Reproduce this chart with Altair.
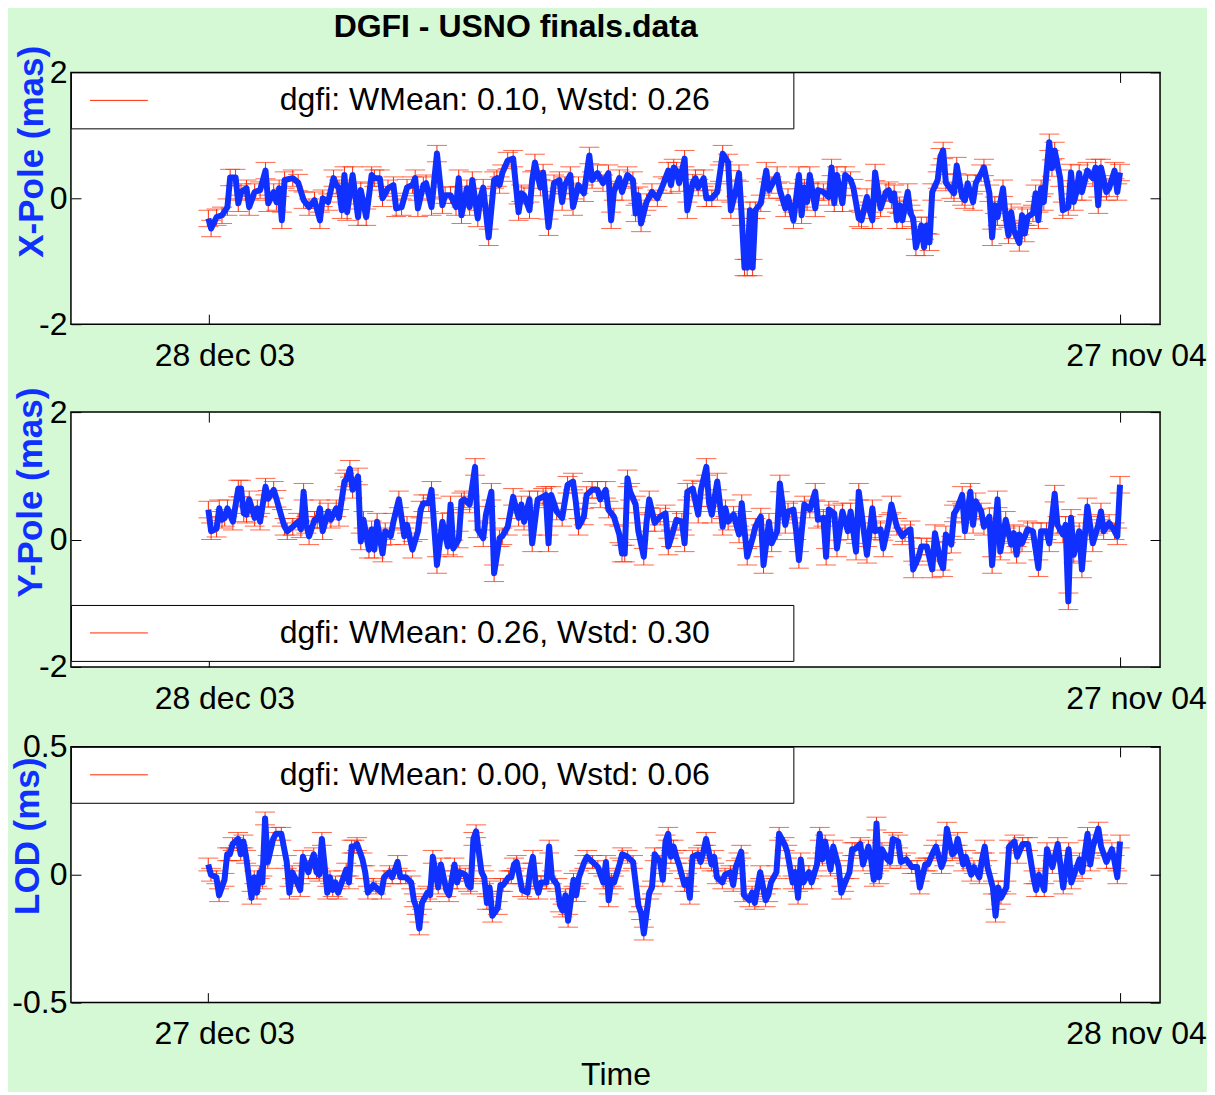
import altair as alt
import pandas as pd
from datetime import date, timedelta

FONT = "Liberation Sans"
BLUE = "#1030ff"
RED = "#ff2a00"
BG = "#d4f9d4"

# ---------------- X-Pole (mas), days after 28 dec 2003 ----------------
x_days = [0, 1, 3, 5, 7, 8, 10, 11, 12, 14, 15, 17, 19, 21, 22, 24, 25, 26, 27, 28,
          31, 33, 35, 37, 39, 41, 42, 44, 46, 47, 48, 49, 50, 51, 53, 55, 56, 58, 60, 61,
          63, 64, 66, 68, 69, 71, 73, 75, 76, 77, 79, 80, 82, 84, 86, 87, 89, 91, 92, 93,
          95, 96, 97, 99, 100, 101, 103, 105, 106, 107, 108, 110, 112, 114, 115, 116, 118, 119, 120, 122,
          123, 125, 127, 129, 130, 131, 133, 134, 136, 138, 140, 141, 143, 145, 147, 148, 149, 151, 152, 154,
          156, 157, 158, 159, 161, 163, 165, 167, 169, 170, 171, 172, 173, 175, 176, 178, 179, 180, 182, 183,
          185, 187, 188, 189, 191, 192, 194, 195, 196, 197, 198, 199, 200, 201, 203, 205, 206, 207, 209, 210,
          212, 213, 215, 217, 218, 219, 220, 221, 223, 224, 226, 228, 229, 230, 231, 233, 234, 236, 237, 239,
          240, 242, 243, 244, 245, 247, 249, 250, 251, 252, 253, 254, 255, 257, 258, 259, 260, 262, 263, 264,
          265, 266, 268, 269, 270, 271, 273, 274, 275, 277, 278, 279, 281, 282, 284, 285, 287, 288, 289, 290,
          292, 293, 294, 295, 296, 298, 299, 300, 301, 303, 304, 305, 306, 307, 309, 310, 311, 313, 314, 316,
          317, 318, 319, 320, 321, 323, 325, 326, 327, 328, 330, 331, 333, 334, 335]
x_vals = [-0.32, -0.48, -0.30, -0.27, -0.14, 0.33, 0.33, -0.08, 0.10, 0.16, -0.14, 0.10, 0.13, 0.44, -0.08, 0.10, -0.06, 0.16, -0.35, 0.29,
          0.32, 0.25, -0.03, -0.14, -0.03, -0.35, 0.00, -0.06, 0.32, 0.21, 0.16, -0.19, 0.37, -0.22, 0.37, -0.30, 0.13, -0.30, 0.37, 0.32,
          0.32, 0.00, 0.16, 0.21, -0.16, -0.14, 0.17, 0.21, 0.32, -0.16, 0.21, 0.24, -0.14, 0.71, -0.11, 0.05, 0.05, -0.14, 0.32, -0.27,
          0.16, -0.14, 0.29, -0.32, 0.02, 0.17, -0.62, 0.29, 0.32, 0.21, 0.40, 0.60, 0.63, -0.22, 0.08, 0.05, -0.19, 0.29, 0.57, 0.17,
          0.41, -0.46, 0.24, 0.29, -0.06, 0.21, 0.37, -0.14, 0.21, 0.08, 0.68, 0.29, 0.40, 0.24, 0.40, -0.35, 0.10, 0.32, 0.10, 0.37,
          0.29, -0.24, 0.05, -0.40, -0.06, 0.10, 0.00, 0.21, 0.44, 0.21, 0.49, 0.44, 0.24, 0.63, -0.19, 0.25, 0.32, 0.17, 0.32, 0.00,
          0.00, 0.10, 0.40, 0.71, 0.57, -0.19, 0.16, 0.40, -0.30, -1.10, -1.10, -0.19, -1.10, -0.19, -0.08, 0.44, 0.13, 0.21, 0.37, 0.13,
          -0.16, 0.02, -0.35, 0.37, -0.27, 0.17, -0.06, 0.37, -0.16, 0.13, 0.10, 0.02, 0.49, -0.08, 0.37, -0.08, 0.37, 0.29, 0.17, -0.32,
          -0.35, 0.02, -0.19, -0.35, 0.41, -0.16, 0.10, 0.13, -0.03, 0.08, -0.35, -0.11, -0.35, 0.10, -0.24, -0.32, -0.78, -0.43, -0.78, -0.43,
          -0.70, 0.10, 0.29, 0.66, 0.76, 0.25, 0.13, 0.08, 0.52, 0.02, -0.03, 0.24, -0.06, 0.24, 0.40, 0.49, 0.08, -0.62, -0.11, -0.30,
          0.16, -0.30, -0.59, -0.22, -0.51, -0.71, -0.27, -0.56, -0.30, -0.24, 0.08, -0.35, 0.16, -0.06, 0.89, 0.48, 0.76, 0.32, -0.19, -0.14,
          0.41, -0.06, 0.10, 0.40, 0.10, 0.44, 0.32, 0.49, -0.11, 0.49, 0.10, 0.16, 0.44, 0.10, 0.41]

# ---------------- Y-Pole (mas), days after 28 dec 2003 ----------------
y_days = [0, 1, 3, 4, 5, 6, 7, 9, 11, 12, 13, 14, 15, 17, 18, 19, 21, 22, 24, 25,
          27, 28, 29, 31, 33, 34, 35, 36, 37, 39, 40, 41, 42, 44, 45, 47, 48, 50, 51, 52,
          53, 55, 56, 57, 59, 60, 61, 62, 64, 65, 67, 68, 70, 72, 73, 75, 77, 78, 79, 81,
          82, 84, 86, 88, 89, 90, 92, 93, 94, 96, 98, 99, 101, 102, 104, 105, 107, 108, 110, 112,
          114, 115, 116, 118, 119, 121, 123, 124, 125, 126, 128, 130, 132, 134, 135, 136, 138, 139, 141, 143,
          144, 146, 147, 149, 151, 152, 153, 154, 155, 157, 158, 160, 161, 162, 164, 166, 168, 169, 170, 172,
          174, 175, 176, 178, 180, 181, 183, 184, 185, 187, 189, 190, 191, 193, 195, 196, 198, 200, 201, 203,
          204, 206, 207, 209, 210, 212, 213, 215, 216, 217, 219, 221, 223, 224, 226, 227, 228, 230, 231, 233,
          235, 236, 238, 239, 242, 244, 245, 247, 248, 250, 251, 253, 255, 256, 258, 259, 261, 262, 264, 266,
          267, 269, 270, 271, 273, 274, 275, 277, 278, 280, 281, 282, 284, 285, 287, 288, 290, 291, 293, 295,
          296, 297, 298, 299, 301, 303, 305, 306, 308, 309, 311, 312, 314, 315, 316, 317, 318, 320, 321, 323,
          325, 327, 328, 329, 331, 333, 334, 335]
y_vals = [0.47, 0.13, 0.17, 0.49, 0.31, 0.34, 0.49, 0.28, 0.80, 0.80, 0.41, 0.39, 0.63, 0.34, 0.49, 0.28, 0.83, 0.64, 0.78, 0.64,
          0.34, 0.20, 0.13, 0.20, 0.28, 0.16, 0.75, 0.23, 0.05, 0.31, 0.31, 0.49, 0.13, 0.44, 0.31, 0.49, 0.34, 0.91, 0.96, 1.11,
          0.78, 0.99, -0.03, 0.31, -0.16, 0.16, -0.16, 0.28, -0.22, 0.13, 0.05, 0.28, 0.63, 0.05, 0.23, -0.16, 0.13, 0.47, 0.57, 0.57,
          0.78, -0.40, 0.28, -0.11, 0.55, -0.14, 0.00, 0.60, 0.63, 0.55, 1.14, 0.16, 0.02, 0.39, 0.75, -0.53, 0.02, 0.05, 0.20, 0.67,
          0.34, 0.55, 0.28, 0.63, -0.06, 0.63, 0.67, 0.70, -0.06, 0.70, 0.44, 0.34, 0.86, 0.91, 0.60, 0.20, 0.36, 0.70, 0.78, 0.78,
          0.63, 0.78, 0.47, 0.36, 0.08, -0.22, -0.22, 0.96, 0.75, 0.55, 0.13, -0.27, 0.26, 0.63, 0.26, 0.36, 0.41, -0.11, 0.02, 0.31,
          0.28, -0.06, 0.75, 0.80, 0.39, 0.78, 1.14, 0.57, 0.39, 0.91, 0.20, 0.49, 0.28, 0.39, 0.08, 0.57, -0.27, 0.02, 0.20, 0.36,
          -0.40, 0.28, -0.06, 0.13, 0.88, 0.23, 0.44, 0.47, 0.13, -0.32, 0.55, 0.47, 0.75, 0.31, 0.34, -0.27, 0.47, 0.41, -0.14, 0.44,
          0.13, 0.44, -0.19, 0.75, -0.24, 0.49, 0.13, 0.16, -0.14, 0.26, 0.55, 0.20, 0.05, 0.10, 0.16, -0.47, -0.27, -0.11, -0.11, -0.47,
          0.10, -0.35, -0.45, 0.08, -0.08, 0.41, 0.47, 0.70, 0.13, 0.75, 0.23, 0.60, 0.44, 0.20, 0.36, -0.40, 0.63, -0.19, 0.31, -0.08,
          0.10, -0.24, 0.08, -0.06, 0.16, 0.13, -0.45, 0.13, 0.13, -0.06, 0.72, 0.23, 0.08, 0.23, -0.97, 0.34, -0.24, 0.13, -0.47, 0.52,
          -0.06, 0.23, 0.44, 0.13, 0.26, 0.13, 0.05, 0.86]

# ---------------- LOD (ms), days after 27 dec 2003 ----------------
l_days = [0, 1, 3, 4, 6, 7, 8, 9, 11, 12, 13, 14, 16, 17, 18, 19, 20, 21, 22, 24,
          25, 27, 29, 30, 31, 32, 34, 35, 37, 38, 39, 40, 41, 42, 44, 45, 46, 47, 48, 50,
          51, 52, 53, 54, 55, 57, 58, 59, 61, 62, 64, 65, 67, 68, 70, 71, 73, 75, 76, 77,
          78, 79, 81, 82, 83, 85, 86, 88, 89, 91, 92, 93, 95, 96, 97, 98, 99, 101, 102, 103,
          104, 105, 107, 108, 109, 111, 112, 113, 114, 116, 118, 119, 120, 121, 122, 123, 125, 126, 127, 129,
          130, 131, 132, 133, 135, 136, 137, 139, 140, 142, 144, 146, 147, 148, 149, 150, 152, 153, 155, 157,
          159, 160, 161, 163, 164, 165, 167, 168, 169, 170, 171, 172, 173, 174, 176, 177, 178, 179, 181, 182,
          183, 184, 186, 187, 188, 190, 191, 193, 194, 195, 196, 197, 198, 200, 201, 202, 203, 204, 206, 207,
          208, 210, 211, 213, 214, 216, 217, 218, 219, 220, 222, 223, 225, 226, 227, 228, 230, 231, 233, 234,
          235, 237, 238, 239, 241, 242, 244, 245, 246, 247, 248, 249, 251, 252, 253, 255, 256, 258, 260, 262,
          263, 265, 266, 268, 269, 271, 272, 273, 275, 276, 277, 279, 280, 282, 283, 285, 286, 287, 288, 290,
          291, 292, 293, 295, 296, 298, 299, 301, 303, 305, 306, 307, 309, 310, 312, 314, 316, 318, 319, 320,
          322, 323, 325, 326, 327, 329, 330, 332, 334, 335, 336, 337]
l_vals = [0.04, 0.00, -0.01, -0.08, -0.02, 0.08, 0.08, 0.12, 0.14, 0.08, 0.13, 0.07, -0.09, -0.01, -0.07, 0.01, -0.03, 0.22, 0.05, 0.14,
          0.16, 0.16, 0.05, -0.07, 0.01, -0.01, -0.06, 0.07, 0.01, 0.05, 0.08, 0.01, 0.00, 0.14, -0.07, -0.01, -0.06, -0.03, -0.07, -0.01,
          0.02, -0.03, 0.11, 0.11, 0.12, 0.06, 0.01, -0.07, -0.04, -0.05, -0.07, -0.01, 0.01, -0.01, 0.05, -0.01, -0.01, -0.03, -0.10, -0.13,
          -0.21, -0.11, -0.07, -0.08, 0.07, -0.05, 0.04, -0.06, -0.08, 0.04, -0.03, 0.01, 0.00, -0.04, -0.05, 0.14, 0.17, 0.01, -0.01, -0.11,
          -0.05, -0.16, -0.13, -0.04, -0.04, -0.01, -0.01, 0.04, 0.05, -0.06, -0.07, 0.02, 0.07, -0.03, -0.07, -0.03, -0.03, 0.11, -0.01, -0.04,
          -0.12, -0.14, -0.08, -0.18, -0.02, -0.08, -0.01, 0.05, 0.07, 0.05, 0.03, -0.03, 0.05, -0.10, -0.02, -0.03, 0.04, 0.08, 0.07, 0.05,
          -0.12, -0.15, -0.23, -0.07, -0.05, 0.08, 0.05, -0.02, 0.13, 0.16, 0.07, 0.11, 0.07, 0.04, -0.04, -0.02, -0.09, 0.07, 0.08, 0.05,
          0.09, 0.14, 0.04, 0.07, -0.01, -0.03, 0.00, 0.01, -0.04, 0.03, 0.06, 0.09, -0.08, -0.10, -0.07, -0.11, -0.05, 0.01, -0.10, -0.08,
          -0.03, 0.01, 0.16, 0.12, 0.09, -0.03, 0.01, -0.09, 0.06, -0.03, 0.01, -0.03, 0.04, 0.16, 0.06, 0.13, 0.02, 0.11, 0.03, -0.07,
          -0.04, 0.01, 0.10, 0.10, 0.12, 0.04, 0.11, 0.06, -0.02, 0.20, -0.01, 0.10, 0.06, 0.05, 0.14, 0.13, 0.05, 0.06, 0.03, 0.03,
          -0.05, 0.04, 0.04, 0.09, 0.11, 0.03, 0.06, 0.18, 0.08, 0.09, 0.14, 0.04, 0.07, 0.00, 0.03, -0.01, 0.06, 0.11, 0.03, -0.05,
          -0.16, -0.05, -0.09, -0.05, 0.11, 0.13, 0.07, 0.12, 0.12, -0.01, -0.06, 0.00, -0.06, 0.10, 0.03, 0.12, -0.05, 0.10, -0.03, 0.00,
          0.06, 0.01, 0.16, 0.04, 0.11, 0.18, 0.11, 0.05, 0.10, 0.05, -0.01, 0.13]

x_label = "dgfi: WMean: 0.10, Wstd: 0.26"
y_label = "dgfi: WMean: 0.26, Wstd: 0.30"
l_label = "dgfi: WMean: 0.00, Wstd: 0.06"

x_err = 0.13
y_err = 0.13
l_err = 0.025

pole_start = date(2003, 12, 28)
lod_start = date(2003, 12, 27)


def make_df(days, vals, start, label, err):
    return pd.DataFrame({
        "date": [(start + timedelta(days=d)).isoformat() for d in days],
        "value": vals,
        "lo": [v - err for v in vals],
        "hi": [v + err for v in vals],
        "series": label,
    })


def dt(y, m, d, h=0):
    return alt.DateTime(year=y, month=m, date=d, hours=h, utc=True)


# non-breaking spaces (kept by a trailing zero-width char) widen the legend box
PAD = "\u00a0" * 8 + "\u200b"

TICKS = dict(ticks=True, tickSize=10, tickColor="black", tickWidth=1, offset=-10)


def panel(df, ydom, yvals, ytitle, tx, ty, legend_y, height, xdom, xticks, xtitle, lpad):
    axis_kw = dict(values=xticks,
                   labelExpr="lower(utcFormat(datum.value, '%d %b %y'))",
                   labelOffset=16, labelPadding=lpad, **TICKS)
    if xtitle:
        axis_kw.update(title=xtitle, titleFontWeight="normal", titlePadding=10)
    else:
        axis_kw.update(title=None)
    xscale = alt.Scale(type="utc", domain=xdom)
    yscale = alt.Scale(domain=ydom, nice=False, zero=False)
    x = alt.X("date:T", scale=xscale, axis=alt.Axis(**axis_kw))
    x_top = alt.X("date:T", scale=xscale,
                  axis=alt.Axis(orient="top", values=xticks, labels=False, title=None, **TICKS))
    x_none = alt.X("date:T", scale=xscale, axis=None)
    y_axis = alt.Axis(values=yvals, labelExpr="'' + datum.value", title=ytitle,
                      titleColor=BLUE, titleFontWeight="bold", titleFontSize=35,
                      titleX=tx, titleY=ty, titleBaseline="middle", labelPadding=4, **TICKS)
    y = alt.Y("value:Q", scale=yscale, axis=y_axis)
    base = alt.Chart(df)
    legend = alt.Legend(orient="none", legendX=0, legendY=legend_y, title=None,
                        fillColor="white", strokeColor="black",
                        padding=12, symbolType="M-1.93,0H1.93", symbolSize=900,
                        symbolStrokeWidth=1, symbolStrokeColor=RED, symbolOffset=20,
                        labelOffset=145, labelFontSize=32, labelFont=FONT, labelLimit=2000,
                        labelExpr="datum.label + '" + PAD + "'")
    bars = base.mark_rule(strokeWidth=1).encode(
        x=x_top,
        y=alt.Y("lo:Q", scale=yscale,
                axis=alt.Axis(orient="right", values=yvals, labels=False, title=None, **TICKS)),
        y2="hi:Q",
        color=alt.Color("series:N", scale=alt.Scale(range=[RED]), legend=legend))
    cap_lo = base.mark_tick(orient="horizontal", size=20, thickness=1, color=RED).encode(
        x=x_none, y=alt.Y("lo:Q", scale=yscale, axis=None))
    cap_hi = base.mark_tick(orient="horizontal", size=20, thickness=1, color=RED).encode(
        x=x_none, y=alt.Y("hi:Q", scale=yscale, axis=None))
    line = base.mark_line(color=BLUE, strokeWidth=6, strokeJoin="round").encode(x=x, y=y)
    return (alt.layer(bars, cap_lo, cap_hi, line)
            .resolve_axis(x="independent", y="independent")
            .properties(width=1090, height=height))


pole_dom = [dt(2003, 11, 7, 12), dt(2004, 12, 11, 17)]
pole_ticks = [dt(2003, 12, 28), dt(2004, 11, 27)]
lod_dom = [dt(2003, 11, 6, 6), dt(2004, 12, 12, 19)]
lod_ticks = [dt(2003, 12, 27), dt(2004, 11, 28)]

p1 = panel(make_df(x_days, x_vals, pole_start, x_label, x_err), [-2, 2], [-2, 0, 2],
           "X-Pole (mas)", -49, 79, 0, 252, pole_dom, pole_ticks, None, 16)
p2 = panel(make_df(y_days, y_vals, pole_start, y_label, y_err), [-2, 2], [-2, 0, 2],
           "Y-Pole (mas)", -50, 80, 193, 255, pole_dom, pole_ticks, None, 17)
p3 = panel(make_df(l_days, l_vals, lod_start, l_label, l_err), [-0.5, 0.5], [-0.5, 0, 0.5],
           "LOD (ms)", -53, 89, 0, 256, lod_dom, lod_ticks, "Time", 16)

chart = alt.vconcat(p1, p2, p3, spacing=14).resolve_scale(color="independent").properties(
    title=alt.TitleParams("DGFI - USNO finals.data", fontSize=32, font=FONT,
                          fontWeight="bold", anchor="middle", dx=-93, offset=1),
    background=BG,
    padding={"left": 2, "top": 2, "right": 0, "bottom": 0},
).configure_view(
    stroke="black", strokeWidth=1.5, fill="white"
).configure_axis(
    domain=False, ticks=False, grid=False, labelFont=FONT, labelFontSize=32,
    labelColor="black", titleFont=FONT, titleFontSize=32, titleColor="black"
).configure_legend(
    cornerRadius=0
)

chart.save("out.html", embed_options={"renderer": "svg", "actions": False})
